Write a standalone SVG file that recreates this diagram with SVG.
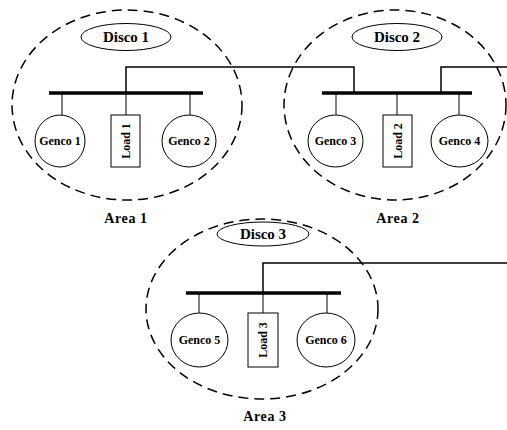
<svg xmlns="http://www.w3.org/2000/svg" width="507" height="430" viewBox="0 0 507 430">
<style>
.area{fill:none;stroke:#000;stroke-width:1.5;stroke-dasharray:10,6}
.sh{fill:#fff;stroke:#000;stroke-width:1}
.bus{stroke:#000;stroke-width:3.5;fill:none}
.ln{stroke:#000;stroke-width:1.5;fill:none}
.drop{stroke:#000;stroke-width:1;fill:none}
text{font-family:"Liberation Serif","Times New Roman",serif;font-weight:bold;fill:#000;text-anchor:middle}
.d{font-size:15px}
.g{font-size:12px}
.a{font-size:14px;letter-spacing:0.6px}
</style>
<rect width="507" height="430" fill="#fff"/>
<g id="area1">
<ellipse class="area" cx="127" cy="105" rx="115" ry="95"/>
<text class="a" x="126" y="223">Area 1</text>
</g>
<g id="area2">
<ellipse class="area" cx="395" cy="105" rx="111" ry="95"/>
<text class="a" x="398" y="223">Area 2</text>
</g>
<g id="area3">
<ellipse class="area" cx="262" cy="309" rx="116" ry="90"/>
<text class="a" x="265" y="421">Area 3</text>
</g>
<g id="connectors">
<polyline class="ln" points="126,93 126,67 354,67 354,93"/>
<polyline class="ln" points="441,93 441,67 507,67"/>
<polyline class="ln" points="263,293 263,263 507,263"/>
<line class="bus" x1="49" y1="93" x2="203" y2="93"/>
<line class="bus" x1="322" y1="93" x2="472" y2="93"/>
<line class="bus" x1="186" y1="293" x2="341" y2="293"/>
<line class="drop" x1="62" y1="93" x2="62" y2="115"/>
<line class="drop" x1="126" y1="93" x2="126" y2="115"/>
<line class="drop" x1="190" y1="93" x2="190" y2="115"/>
<line class="drop" x1="336" y1="93" x2="336" y2="115"/>
<line class="drop" x1="397" y1="93" x2="397" y2="115"/>
<line class="drop" x1="459" y1="93" x2="459" y2="115"/>
<line class="drop" x1="199" y1="293" x2="199" y2="313"/>
<line class="drop" x1="263" y1="293" x2="263" y2="313"/>
<line class="drop" x1="327" y1="293" x2="327" y2="313"/>
</g>
<g id="disco1"><ellipse class="sh" cx="126" cy="37" rx="45" ry="13.5"/><text class="d" x="126" y="42">Disco 1</text></g>
<g id="disco2"><ellipse class="sh" cx="397" cy="37" rx="45" ry="13.5"/><text class="d" x="397" y="42">Disco 2</text></g>
<g id="disco3"><ellipse class="sh" cx="263" cy="234" rx="46" ry="12"/><text class="d" x="263" y="239">Disco 3</text></g>
<g id="genco1"><ellipse class="sh" cx="60" cy="141" rx="25" ry="26"/><text class="g" x="60" y="145">Genco 1</text></g>
<g id="load1"><rect class="sh" x="111" y="115" width="29" height="52"/><text class="g" transform="translate(129.5,141) rotate(-90)">Load 1</text></g>
<g id="genco2"><ellipse class="sh" cx="189" cy="141" rx="27" ry="26"/><text class="g" x="189" y="145">Genco 2</text></g>
<g id="genco3"><ellipse class="sh" cx="335.5" cy="141" rx="27.5" ry="26"/><text class="g" x="335.5" y="145">Genco 3</text></g>
<g id="load2"><rect class="sh" x="383" y="115" width="29" height="52"/><text class="g" transform="translate(401.5,141) rotate(-90)">Load 2</text></g>
<g id="genco4"><ellipse class="sh" cx="459.5" cy="141" rx="28.5" ry="26"/><text class="g" x="459.5" y="145">Genco 4</text></g>
<g id="genco5"><ellipse class="sh" cx="199.5" cy="340" rx="28.5" ry="27"/><text class="g" x="199.5" y="344">Genco 5</text></g>
<g id="load3"><rect class="sh" x="248" y="313" width="30" height="54"/><text class="g" transform="translate(267,340) rotate(-90)">Load 3</text></g>
<g id="genco6"><ellipse class="sh" cx="326" cy="340" rx="29" ry="27"/><text class="g" x="326" y="344">Genco 6</text></g>
</svg>
